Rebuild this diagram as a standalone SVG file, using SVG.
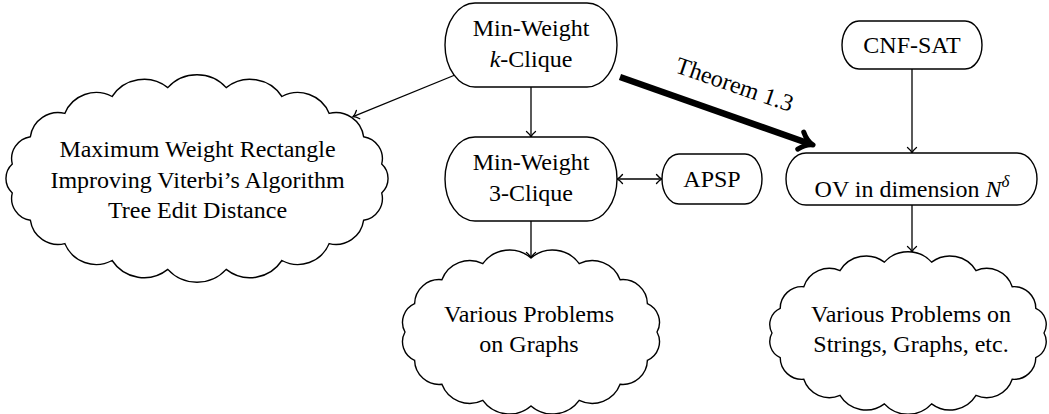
<svg xmlns="http://www.w3.org/2000/svg" width="1049" height="414" viewBox="0 0 1049 414">
<style>
.box{fill:#fff;stroke:#000;stroke-width:1.4}
.cloud{fill:#fff;stroke:#000;stroke-width:1.4;stroke-linejoin:miter}
text{font-size:24px;fill:#000;text-anchor:middle}
.it{font-style:italic}
.edge{stroke:#000;stroke-width:1.3;fill:none}
.thick{stroke:#000;stroke-width:6.5;fill:none}
</style>
<defs>
<marker id="to" viewBox="-8 -6 10 12" markerWidth="10" markerHeight="12" refX="0" refY="0" orient="auto-start-reverse" markerUnits="userSpaceOnUse">
<path d="M -5.5,-4.5 C -3.5,-2 -1.2,-0.5 0,0 C -1.2,0.5 -3.5,2 -5.5,4.5" fill="none" stroke="#000" stroke-width="1.3" stroke-linecap="round"/>
</marker>
<marker id="tothick" viewBox="-14 -12 20 24" markerWidth="20" markerHeight="24" refX="0" refY="0" orient="auto" markerUnits="userSpaceOnUse">
<path d="M -10,-9 C -6,-4 -2,-1 3,0 C -2,1 -6,4 -10,9" fill="none" stroke="#000" stroke-width="5" stroke-linecap="round" stroke-linejoin="round"/>
</marker>
</defs>
<g font-family="Liberation Serif, serif">
<g id="connectors">
<line class="edge" x1="455" y1="75" x2="353" y2="116.7" marker-end="url(#to)"/>
<line class="edge" x1="531" y1="87" x2="531" y2="137" marker-end="url(#to)"/>
<line class="edge" x1="617" y1="179" x2="662" y2="179" marker-start="url(#to)" marker-end="url(#to)"/>
<line class="edge" x1="912" y1="69" x2="912" y2="153" marker-end="url(#to)"/>
<line class="edge" x1="912" y1="205" x2="912" y2="252" marker-end="url(#to)"/>
<line class="edge" x1="531" y1="221" x2="531" y2="258" marker-end="url(#to)"/>
<line class="thick" x1="620" y1="77" x2="810.2" y2="144" marker-end="url(#tothick)"/>
<text transform="translate(732,92) rotate(19)" font-size="23">Theorem 1.3</text>
</g>

<g id="kclique">
<rect class="box" x="445" y="3" width="172" height="84" rx="30" ry="42"/>
<text x="531" y="36">Min-Weight</text>
<text x="531" y="67"><tspan class="it">k</tspan>-Clique</text>
</g>

<g id="threeclique">
<rect class="box" x="445" y="137" width="172" height="84" rx="30" ry="42"/>
<text x="531" y="170">Min-Weight</text>
<text x="531" y="201">3-Clique</text>
</g>

<g id="apsp">
<rect class="box" x="662" y="154" width="100" height="50" rx="17" ry="25"/>
<text x="712" y="187">APSP</text>
</g>

<g id="cnfsat">
<rect class="box" x="842" y="21" width="140" height="48" rx="17" ry="24"/>
<text x="912" y="53">CNF-SAT</text>
</g>

<g id="ov">
<rect class="box" x="786" y="153" width="251" height="52" rx="20" ry="26"/>
<text x="912" y="197">OV in dimension <tspan class="it">N</tspan><tspan class="it" font-size="17" dy="-10">δ</tspan></text>
</g>

<g id="cloud-left">
<path class="cloud" d="M 167.8 87.6 A 39.6 39.6 0 0 1 226.2 87.6 A 38.2 38.2 0 0 1 281.9 96.5 A 34 34 0 0 1 329.2 113.4 A 28.1 28.1 0 0 1 363.6 136.7 A 22.2 22.2 0 0 1 381.7 164.1 A 19.5 19.5 0 0 1 381.7 192.9 A 22.2 22.2 0 0 1 363.6 220.3 A 28.1 28.1 0 0 1 329.2 243.6 A 34 34 0 0 1 281.9 260.5 A 38.2 38.2 0 0 1 226.2 269.4 A 39.6 39.6 0 0 1 167.8 269.4 A 38.2 38.2 0 0 1 112.1 260.5 A 34 34 0 0 1 64.8 243.6 A 28.1 28.1 0 0 1 30.4 220.3 A 22.2 22.2 0 0 1 12.3 192.9 A 19.5 19.5 0 0 1 12.3 164.1 A 22.2 22.2 0 0 1 30.4 136.7 A 28.1 28.1 0 0 1 64.8 113.4 A 34 34 0 0 1 112.1 96.5 A 38.2 38.2 0 0 1 167.8 87.6 Z"/>
<text x="197.5" y="157">Maximum Weight Rectangle</text>
<text x="197.5" y="188">Improving Viterbi’s Algorithm</text>
<text x="197.5" y="218">Tree Edit Distance</text>
</g>

<g id="cloud-graphs">
<path class="cloud" d="M 531 258 A 32.9 32.9 0 0 1 579.2 263.6 A 29.8 29.8 0 0 1 620.1 279.7 A 24.7 24.7 0 0 1 647.4 303.7 A 20.3 20.3 0 0 1 657 332 A 20.3 20.3 0 0 1 647.4 360.3 A 24.7 24.7 0 0 1 620.1 384.3 A 29.8 29.8 0 0 1 579.2 400.4 A 32.9 32.9 0 0 1 531 406 A 32.9 32.9 0 0 1 482.8 400.4 A 29.8 29.8 0 0 1 441.9 384.3 A 24.7 24.7 0 0 1 414.6 360.3 A 20.3 20.3 0 0 1 405 332 A 20.3 20.3 0 0 1 414.6 303.7 A 24.7 24.7 0 0 1 441.9 279.7 A 29.8 29.8 0 0 1 482.8 263.6 A 32.9 32.9 0 0 1 531 258 Z"/>
<text x="529" y="322">Various Problems</text>
<text x="529" y="352">on Graphs</text>
</g>

<g id="cloud-strings">
<path class="cloud" d="M 884.4 262.1 A 32 32 0 0 1 931.6 262.1 A 30.6 30.6 0 0 1 976 270.6 A 26.9 26.9 0 0 1 1012.2 286.7 A 21.8 21.8 0 0 1 1035.8 308.4 A 17.6 17.6 0 0 1 1044 333 A 17.6 17.6 0 0 1 1035.8 357.6 A 21.8 21.8 0 0 1 1012.2 379.3 A 26.9 26.9 0 0 1 976 395.4 A 30.6 30.6 0 0 1 931.6 403.9 A 32 32 0 0 1 884.4 403.9 A 30.6 30.6 0 0 1 840 395.4 A 26.9 26.9 0 0 1 803.8 379.3 A 21.8 21.8 0 0 1 780.2 357.6 A 17.6 17.6 0 0 1 772 333 A 17.6 17.6 0 0 1 780.2 308.4 A 21.8 21.8 0 0 1 803.8 286.7 A 26.9 26.9 0 0 1 840 270.6 A 30.6 30.6 0 0 1 884.4 262.1 Z"/>
<text x="911" y="322">Various Problems on</text>
<text x="911" y="352">Strings, Graphs, etc.</text>
</g>
</g>
</svg>
